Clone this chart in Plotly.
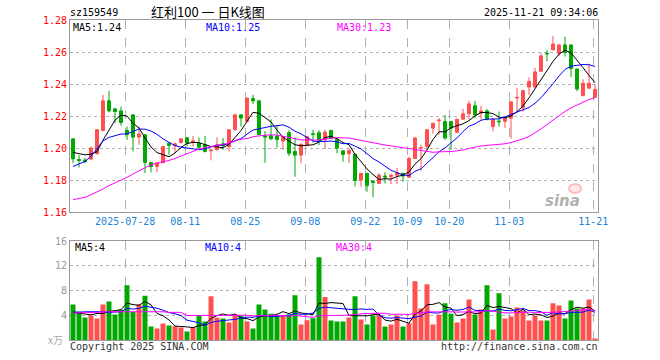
import pandas as pd
import numpy as np
import plotly.graph_objects as go

# ---------------- data ----------------
first_day, last_day = "2025-07-15", "2025-11-21"
holidays = ["2025-10-01", "2025-10-02", "2025-10-03", "2025-10-06", "2025-10-07", "2025-10-08"]

opens = [1.2058,1.1929,1.1925,1.1931,1.1965,1.2110,1.2296,1.2246,1.2233,1.2110,
         1.2208,1.2069,1.2083,1.1910,1.1885,1.1908,1.2031,1.2015,1.2035,1.2065,
         1.2035,1.2031,1.2021,1.1983,1.1990,1.2027,1.2010,1.2115,1.2208,1.2167,
         1.2310,1.2296,1.2077,1.2077,1.2075,1.2044,1.2096,1.1979,1.1956,1.2015,
         1.2090,1.2096,1.2052,1.2110,1.2056,1.1983,1.1965,1.1962,1.1800,1.1842,
         1.1794,1.1779,1.1825,1.1821,1.1831,1.1842,1.1817,1.1935,1.2000,1.2010,
         1.2125,1.2171,1.2167,1.2167,1.2098,1.2181,1.2215,1.2265,1.2219,1.2233,
         1.2135,1.2169,1.2167,1.2188,1.2313,1.2252,1.2382,1.2383,1.2481,1.2592,
         1.2615,1.2594,1.2646,1.2646,1.2495,1.2328,1.2375,1.2318]
highs = [1.2060,1.1956,1.1940,1.2010,1.2118,1.2333,1.2358,1.2250,1.2260,1.2135,
         1.2212,1.2135,1.2085,1.1912,1.1910,1.2012,1.2035,1.2035,1.2062,1.2069,
         1.2077,1.2067,1.2077,1.1994,1.2067,1.2063,1.2117,1.2215,1.2212,1.2315,
         1.2333,1.2298,1.2106,1.2181,1.2144,1.2075,1.2112,1.2067,1.2027,1.2075,
         1.2115,1.2112,1.2115,1.2115,1.2058,1.1985,1.1998,1.1965,1.1845,1.1845,
         1.1796,1.1842,1.1848,1.1835,1.1877,1.1845,1.1946,1.2071,1.2021,1.2119,
         1.2156,1.2188,1.2208,1.2170,1.2183,1.2246,1.2296,1.2296,1.2265,1.2244,
         1.2183,1.2229,1.2190,1.2294,1.2377,1.2362,1.2443,1.2502,1.2594,1.2615,
         1.2702,1.2652,1.2698,1.2648,1.2497,1.2431,1.2529,1.2396]
lows = [1.1906,1.1879,1.1906,1.1923,1.1960,1.2105,1.2223,1.2156,1.2140,1.2052,
        1.1979,1.2021,1.1844,1.1848,1.1848,1.1906,1.1958,1.1969,1.2030,1.2010,
        1.2010,1.1990,1.1973,1.1923,1.1985,1.1990,1.1979,1.2110,1.2135,1.2160,
        1.2277,1.2083,1.1908,1.2050,1.2004,1.1988,1.1950,1.1821,1.1904,1.2013,
        1.2035,1.2019,1.1995,1.2055,1.1967,1.1915,1.1908,1.1760,1.1758,1.1727,
        1.1692,1.1775,1.1779,1.1775,1.1775,1.1790,1.1815,1.1933,1.1858,1.1990,
        1.2090,1.2083,1.2052,1.1990,1.2095,1.2178,1.2179,1.2188,1.2179,1.2173,
        1.2104,1.2135,1.2125,1.2060,1.2230,1.2228,1.2333,1.2380,1.2478,1.2542,
        1.2612,1.2577,1.2573,1.2445,1.2356,1.2326,1.2373,1.2316]
closes = [1.1933,1.1923,1.1915,1.2000,1.2115,1.2296,1.2233,1.2229,1.2160,1.2085,
          1.2069,1.2088,1.1910,1.1885,1.1908,1.2010,1.2017,1.2027,1.2058,1.2031,
          1.2046,1.2006,1.1979,1.1987,1.2021,1.2015,1.2115,1.2208,1.2188,1.2313,
          1.2296,1.2085,1.2069,1.2058,1.2054,1.2071,1.1967,1.1956,1.2025,1.2071,
          1.2085,1.2050,1.2100,1.2062,1.2000,1.1960,1.1985,1.1797,1.1842,1.1765,
          1.1785,1.1831,1.1819,1.1831,1.1846,1.1825,1.1935,1.2063,1.2002,1.2115,
          1.2156,1.2175,1.2063,1.2125,1.2181,1.2215,1.2277,1.2208,1.2233,1.2181,
          1.2181,1.2165,1.2188,1.2290,1.2317,1.2360,1.2417,1.2477,1.2577,1.2590,
          1.2652,1.2646,1.2598,1.2498,1.2370,1.2406,1.2406,1.2367]
volumes = [5.78,4.65,3.68,4.00,3.51,5.78,6.27,4.16,4.92,8.86,
           4.54,5.78,7.19,2.22,1.89,2.70,2.38,2.27,2.05,1.41,
           2.11,4.00,3.03,7.08,3.62,3.51,2.86,4.11,3.95,3.03,
           1.89,5.78,4.97,4.27,4.05,4.00,4.16,7.24,2.54,3.24,
           3.57,13.4,6.97,3.19,3.03,3.03,3.68,7.08,3.35,2.54,
           4.00,4.16,2.22,2.54,4.00,2.22,2.76,9.51,5.14,9.03,
           2.54,4.16,5.95,4.27,2.86,3.51,6.59,4.16,4.97,8.86,
           1.73,7.57,3.51,3.84,5.30,4.81,3.19,4.00,3.19,3.19,
           5.95,5.62,3.51,6.43,5.14,5.14,6.59,0.27]

# moving-average values at the start of the window (they depend on earlier days)
ma5_head = [1.1973, 1.1965, 1.1958, 1.1962]
ma10_head = [1.1885, 1.1900, 1.1917, 1.1948, 1.2000, 1.2045, 1.2067, 1.2079, 1.2088]
ma30_head = [1.1677, 1.1683, 1.1692, 1.1708, 1.1725, 1.1744, 1.1765, 1.1781, 1.1798, 1.1817,
             1.1838, 1.1858, 1.1881, 1.1896, 1.1906, 1.1913, 1.1923, 1.1935, 1.1952, 1.1965,
             1.1979, 1.1994, 1.2002, 1.2010, 1.2019, 1.2025, 1.2031, 1.2046, 1.2056]
vma5_head = [4.5, 4.4, 4.2, 4.1]
vma10_head = [4.6, 4.5, 4.6, 4.6, 4.7, 4.6, 4.5, 4.6, 4.6]
vma30_head = [4.4, 4.4, 4.5, 4.5, 4.5, 4.6, 4.6, 4.6, 4.7, 4.7, 4.7, 4.7, 4.6, 4.6, 4.6,
              4.6, 4.5, 4.5, 4.5, 4.0, 4.0, 4.0, 4.1, 4.1, 4.1, 4.1, 4.0, 4.0, 4.0]

tick_dates = ["2025-07-28", "2025-08-11", "2025-08-25", "2025-09-08", "2025-09-22",
              "2025-10-09", "2025-10-20", "2025-11-03", "2025-11-21"]
tick_labels = ["2025-07-28", "08-11", "08-25", "09-08", "09-22", "10-09", "10-20", "11-03", "11-21"]
price_ticks = [1.16, 1.18, 1.20, 1.22, 1.24, 1.26, 1.28]
volume_ticks = [4, 8, 12, 16]

code = "sz159549"
title = "红利100 一 日K线图"
timestamp = "2025-11-21 09:34:06"

# ---------------- derived ----------------
days = pd.bdate_range(first_day, last_day)
days = [d.strftime("%Y-%m-%d") for d in days if d.strftime("%Y-%m-%d") not in holidays]
n = len(days)
idx = list(range(n))


def moving(values, w, head):
    s = pd.Series(values).rolling(w).mean().tolist()
    return list(head) + s[len(head):]


ma5 = moving(closes, 5, ma5_head)
ma10 = moving(closes, 10, ma10_head)
ma30 = moving(closes, 30, ma30_head)
vma5 = moving(volumes, 5, vma5_head)
vma10 = moving(volumes, 10, vma10_head)
vma30 = moving(volumes, 30, vma30_head)

RED = "#ff5050"
GREEN = "#00a800"
vol_colors = [RED if c > o else GREEN for o, c in zip(opens, closes)]
tick_pos = [days.index(d) - 0.3 for d in tick_dates]

W, H = 660, 360
L, R = 70, 598
MAIN_T, MAIN_B = 20.3, 212
VOL_T, VOL_B = 241, 340.3


def px(x):
    return x / W


def py(y):
    return 1 - y / H


MONO = "DejaVu Sans Mono"
CJK = "Noto Sans CJK SC"

fig = go.Figure()
fig.add_trace(go.Candlestick(
    x=idx, open=opens, high=highs, low=lows, close=closes,
    increasing=dict(line=dict(color=RED, width=1), fillcolor=RED),
    decreasing=dict(line=dict(color=GREEN, width=1), fillcolor=GREEN),
    whiskerwidth=0, hoverinfo="skip", xaxis="x", yaxis="y"))
for vals, col in [(ma5, "#000000"), (ma10, "#0000ff"), (ma30, "#ff00ff")]:
    fig.add_trace(go.Scatter(x=idx, y=vals, mode="lines", line=dict(color=col, width=1),
                             hoverinfo="skip", xaxis="x", yaxis="y"))
fig.add_trace(go.Bar(x=idx, y=volumes, marker=dict(color=vol_colors, line=dict(width=0)),
                     width=0.83, hoverinfo="skip", xaxis="x2", yaxis="y2"))
for vals, col in [(vma5, "#000000"), (vma10, "#0000ff"), (vma30, "#ff00ff")]:
    fig.add_trace(go.Scatter(x=idx, y=vals, mode="lines", line=dict(color=col, width=1),
                             hoverinfo="skip", xaxis="x2", yaxis="y2"))

axis_common = dict(showline=True, linecolor="#999999", linewidth=1, mirror=True, automargin=False,
                   zeroline=False, ticks="", showgrid=True, gridcolor="#b0b0b0", gridwidth=1)

fig.update_layout(
    width=W, height=H, margin=dict(l=0, r=0, t=0, b=0, pad=0, autoexpand=False),
    paper_bgcolor="white", plot_bgcolor="white", showlegend=False,
    boxgap=0.3,
    xaxis=dict(domain=[px(L), px(R)], range=[-0.5, n - 0.5], anchor="y",
               tickvals=tick_pos, ticktext=tick_labels, griddash="dash",
               tickfont=dict(family=MONO, size=10, color="#1c84d8"),
               rangeslider=dict(visible=False), **axis_common),
    yaxis=dict(domain=[py(MAIN_B), py(MAIN_T)], range=[1.16, 1.28], anchor="x",
               tickvals=price_ticks, ticktext=[f"{v:.2f}" for v in price_ticks], griddash="dot",
               tickfont=dict(family=MONO, size=10, color="#ff0000"), **axis_common),
    xaxis2=dict(domain=[px(L), px(R)], range=[-0.5, n - 0.5], anchor="y2",
                tickvals=tick_pos, showticklabels=False, griddash="dash", **axis_common),
    yaxis2=dict(domain=[py(VOL_B), py(VOL_T)], range=[0, 16], anchor="x2",
                tickvals=volume_ticks, ticktext=[str(v) for v in volume_ticks], griddash="dot",
                tickfont=dict(family=MONO, size=10, color="#999999"), **axis_common),
)


def note(text, x, y, color="#000000", size=10, family=MONO, anchor="left", **kw):
    fig.add_annotation(text=text, x=px(x), y=py(y), xref="paper", yref="paper",
                       xanchor=anchor, yanchor="middle", showarrow=False, borderpad=0,
                       font=dict(family=family, size=size, color=color), **kw)


note(code, 69, 13, size=10)
note(title, 150, 12, size=13, family=CJK)
note(timestamp, 599, 13, size=10, anchor="right")
note(f"MA5:{ma5[-1]:.2f}", 72, 28)
note(f"MA10:{ma10[-1]:.2f}", 205, 28, color="#0000ff")
note(f"MA30:{ma30[-1]:.2f}", 336, 28, color="#ff00ff")
note(f"MA5:{int(vma5[-1])}", 74, 247)
note(f"MA10:{int(vma10[-1])}", 204, 247, color="#0000ff")
note(f"MA30:{int(vma30[-1])}", 335, 247, color="#ff00ff")
note("x万", 64, 339, color="#aaaaaa", family=CJK, anchor="right")
note("Copyright 2025 SINA.COM", 69, 346, color="#333333")
note("http://finance.sina.com.cn", 599, 346, color="#333333", anchor="right")
fig.add_annotation(text="<b><i>sina</i></b>", x=px(582), y=py(201), xref="paper", yref="paper",
                   showarrow=False, font=dict(family="DejaVu Sans", size=15, color="rgba(150,150,150,0.75)"))
fig.add_shape(type="circle", xref="paper", yref="paper", x0=px(569), x1=px(581), y0=py(193), y1=py(184),
              line=dict(color="rgba(255,120,120,0.45)", width=2), fillcolor="rgba(255,170,170,0.25)")

fig.write_html("out.html", config={"displayModeBar": False, "staticPlot": True},
               post_script="document.body.style.margin='0';document.body.style.overflow='hidden';")
